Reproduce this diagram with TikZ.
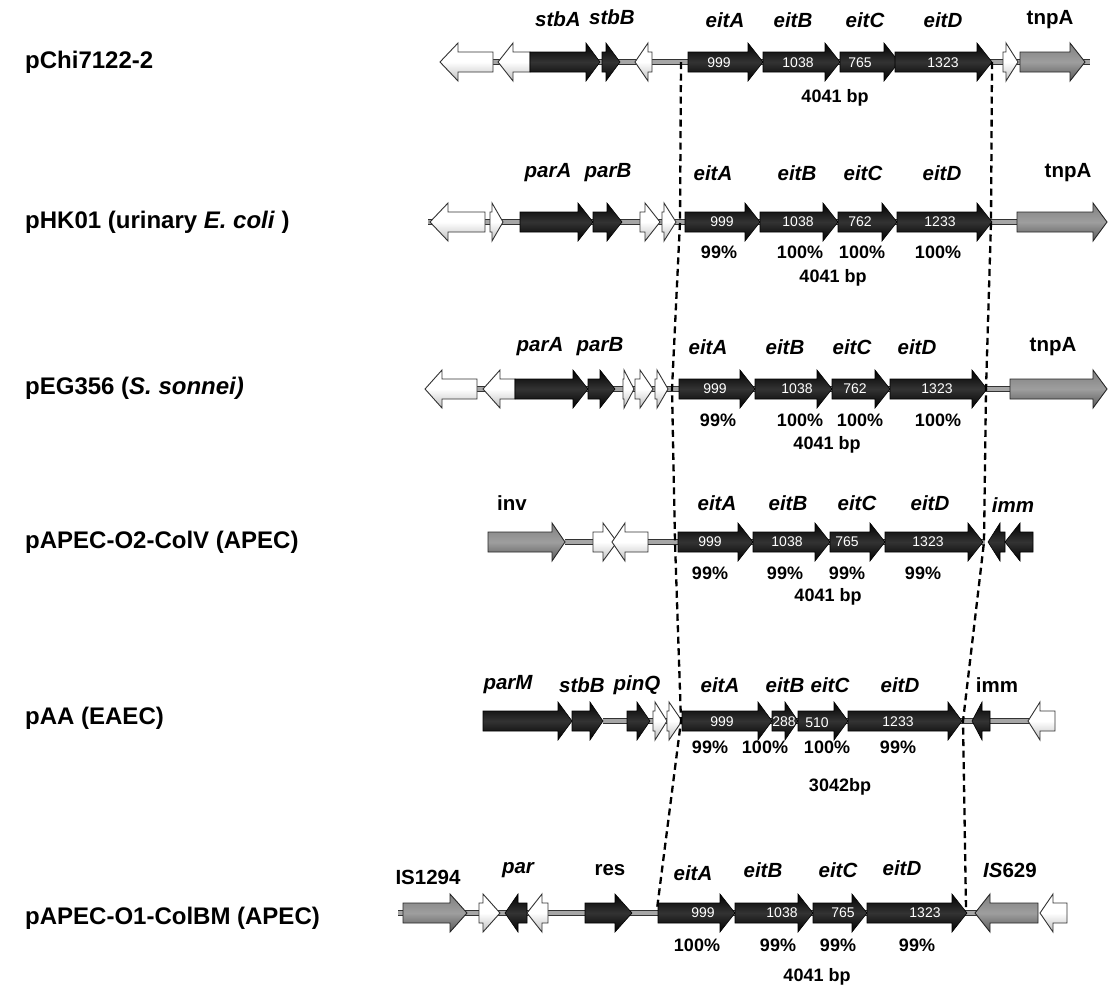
\documentclass[tikz,border=0pt]{standalone}
\usepackage{fontspec}
\setmainfont{Liberation Sans}
\begin{document}
\begin{tikzpicture}[x=1pt,y=-1pt,
  blk/.style={draw=black, line width=0.6pt, top color=black, bottom color=black, middle color=black!80},
  wht/.style={draw=black!80, line width=0.9pt, top color=white, bottom color=gray!50, middle color=white},
  gry/.style={draw=black!85, line width=0.9pt, top color=black!50, bottom color=black!65, middle color=black!38},
  rowlab/.style={anchor=west, inner sep=0pt, font=\fontsize{24}{26}\selectfont\bfseries},
  glab/.style={inner sep=0pt, font=\fontsize{20.5}{22}\selectfont\bfseries\itshape},
  glabu/.style={inner sep=0pt, font=\fontsize{20.5}{22}\selectfont\bfseries},
  inum/.style={inner sep=0pt, text=white, font=\fontsize{14}{15}\selectfont},
  pct/.style={inner sep=0pt, font=\fontsize{18}{20}\selectfont\bfseries},
  dashln/.style={draw=black, line width=2.3pt, dash pattern=on 7pt off 4.5pt}
]
\newcommand{\gene}[5]{\path[#1] (#2,#5-10) -- (#3,#5-10) -- (#3,#5-19) -- (#4,#5) -- (#3,#5+19) -- (#3,#5+10) -- (#2,#5+10) -- cycle;}
\newcommand{\bb}[3]{\draw[line width=6pt, black!80] (#1,#3) -- (#2,#3); \draw[line width=3.5pt, gray!70] (#1,#3) -- (#2,#3);}
\fill[white] (0,0) rectangle (1108,989);
\useasboundingbox (0,0) rectangle (1108,989);

% ---------- Row 1: pChi7122-2 ----------
\bb{480}{1090}{62}
\gene{wht}{493}{458}{440}{62}
\gene{wht}{530}{513}{498}{62}
\gene{blk}{530}{586}{600}{62}
\gene{blk}{602}{606}{620}{62}
\gene{wht}{652}{648}{635}{62}
\gene{blk}{688}{748}{763}{62}
\gene{blk}{763}{825}{840}{62}
\gene{blk}{840}{884}{899}{62}
\gene{blk}{895}{977}{992}{62}
\gene{wht}{1003}{1006}{1018}{62}
\gene{gry}{1020}{1070}{1085}{62}

% ---------- Row 2: pHK01 ----------
\bb{428}{1020}{222}
\gene{wht}{485}{448}{430}{222}
\gene{wht}{490}{492}{503}{222}
\gene{blk}{520}{578}{593}{222}
\gene{blk}{593}{607}{622}{222}
\gene{wht}{640}{645}{660}{222}
\gene{wht}{662}{664}{676}{222}
\gene{blk}{685}{745}{760}{222}
\gene{blk}{760}{823}{838}{222}
\gene{blk}{838}{882}{897}{222}
\gene{blk}{897}{977}{992}{222}
\gene{gry}{1017}{1093}{1107}{222}

% ---------- Row 3: pEG356 ----------
\bb{477}{1012}{389}
\gene{wht}{477}{442}{425}{389}
\gene{wht}{515}{500}{483}{389}
\gene{blk}{515}{573}{588}{389}
\gene{blk}{588}{600}{615}{389}
\gene{wht}{623}{624}{634}{389}
\gene{wht}{635}{640}{653}{389}
\gene{wht}{655}{657}{668}{389}
\gene{blk}{679}{740}{755}{389}
\gene{blk}{755}{817}{832}{389}
\gene{blk}{832}{875}{890}{389}
\gene{blk}{890}{972}{987}{389}
\gene{gry}{1010}{1093}{1107}{389}

% ---------- Row 4: pAPEC-O2-ColV ----------
\bb{565}{985}{542}
\gene{gry}{488}{552}{565}{542}
\gene{wht}{593}{603}{617}{542}
\gene{wht}{648}{625}{612}{542}
\gene{blk}{678}{738}{753}{542}
\gene{blk}{753}{815}{830}{542}
\gene{blk}{830}{870}{885}{542}
\gene{blk}{885}{968}{983}{542}
\gene{blk}{1005}{1000}{988}{542}
\gene{blk}{1033}{1020}{1005}{542}

% ---------- Row 5: pAA ----------
\bb{603}{1030}{721}
\gene{blk}{483}{558}{572}{721}
\gene{blk}{572}{590}{603}{721}
\gene{blk}{627}{637}{650}{721}
\gene{wht}{653}{655}{667}{721}
\gene{wht}{667}{669}{682}{721}
\gene{blk}{682}{758}{772}{721}
\gene{blk}{772}{785}{798}{721}
\gene{blk}{798}{834}{848}{721}
\gene{blk}{848}{948}{962}{721}
\gene{blk}{990}{982}{972}{721}
\gene{wht}{1055}{1040}{1028}{721}

% ---------- Row 6: pAPEC-O1-ColBM ----------
\bb{398}{977}{913}
\gene{gry}{403}{450}{467}{913}
\gene{wht}{479}{483}{500}{913}
\gene{blk}{527}{518}{505}{913}
\gene{wht}{548}{542}{527}{913}
\gene{blk}{585}{615}{632}{913}
\gene{blk}{658}{720}{735}{913}
\gene{blk}{735}{798}{813}{913}
\gene{blk}{813}{852}{867}{913}
\gene{blk}{867}{952}{967}{913}
\gene{gry}{1038}{990}{975}{913}
\gene{wht}{1067}{1053}{1040}{913}

% ---------- dashed boundaries ----------
\coordinate (L1) at (681,62); \coordinate (L2) at (680,222); \coordinate (L3) at (672,389);
\coordinate (L4) at (675,542); \coordinate (L5) at (681,721); \coordinate (L6) at (657,909);
\coordinate (R1) at (992,62); \coordinate (R2) at (991,222); \coordinate (R3) at (986,389);
\coordinate (R4) at (984,542); \coordinate (R5) at (963,721); \coordinate (R6) at (966,909);
\draw[dashln] (L1) -- (L2) -- (L3) -- (L4) -- (L5) -- (L6);
\draw[dashln] (R1) -- (R2) -- (R3) -- (R4) -- (R5) -- (R6);

% ---------- row labels ----------
\node[rowlab] (n1) at (25,62) {pChi7122-2};
\node[rowlab] (n2) at (25,222) {pHK01 (urinary \textit{E. coli} )};
\node[rowlab] (n3) at (25,388) {pEG356 (\textit{S. sonnei)}};
\node[rowlab] (n4) at (25,542) {pAPEC-O2-ColV (APEC)};
\node[rowlab] (n5) at (25,718) {pAA (EAEC)};
\node[rowlab] (n6) at (25,918) {pAPEC-O1-ColBM (APEC)};

% ---------- row 1 texts ----------
\node[glab] (a1) at (558,19) {stbA};
\node[glab] (a2) at (612,17) {stbB};
\node[glab] (a3) at (725,20) {eitA};
\node[glab] (a4) at (793,20) {eitB};
\node[glab] (a5) at (865,20) {eitC};
\node[glab] (a6) at (943,20) {eitD};
\node[glabu] (a7) at (1050,20) {tnpA};
\node[inum] (a8) at (719,63) {999};
\node[inum] (a9) at (798,63) {1038};
\node[inum] (a10) at (860,63) {765};
\node[inum] (a11) at (943,63) {1323};
\node[pct] (a12) at (835,98) {4041 bp};

% ---------- row 2 texts ----------
\node[glab] (b1) at (548,173) {parA};
\node[glab] (b2) at (608,173) {parB};
\node[glab] (b3) at (713,173) {eitA};
\node[glab] (b4) at (797,173) {eitB};
\node[glab] (b5) at (863,173) {eitC};
\node[glab] (b6) at (942,173) {eitD};
\node[glabu] (b7) at (1068,173) {tnpA};
\node[inum] (b8) at (722,222) {999};
\node[inum] (b9) at (798,222) {1038};
\node[inum] (b10) at (860,222) {762};
\node[inum] (b11) at (940,222) {1233};
\node[pct] (b12) at (719,252) {99\%};
\node[pct] (b13) at (800,252) {100\%};
\node[pct] (b14) at (862,252) {100\%};
\node[pct] (b15) at (938,252) {100\%};
\node[pct] (b16) at (833,278) {4041 bp};

% ---------- row 3 texts ----------
\node[glab] (c1) at (540,347) {parA};
\node[glab] (c2) at (600,347) {parB};
\node[glab] (c3) at (708,347) {eitA};
\node[glab] (c4) at (785,347) {eitB};
\node[glab] (c5) at (852,347) {eitC};
\node[glab] (c6) at (917,347) {eitD};
\node[glabu] (c7) at (1053,347) {tnpA};
\node[inum] (c8) at (715,389) {999};
\node[inum] (c9) at (797,389) {1038};
\node[inum] (c10) at (855,389) {762};
\node[inum] (c11) at (937,389) {1323};
\node[pct] (c12) at (718,420) {99\%};
\node[pct] (c13) at (800,420) {100\%};
\node[pct] (c14) at (860,420) {100\%};
\node[pct] (c15) at (938,420) {100\%};
\node[pct] (c16) at (827,445) {4041 bp};

% ---------- row 4 texts ----------
\node[glabu] (d1) at (512,503) {inv};
\node[glab] (d2) at (717,503) {eitA};
\node[glab] (d3) at (788,503) {eitB};
\node[glab] (d4) at (857,503) {eitC};
\node[glab] (d5) at (930,503) {eitD};
\node[glab] (d6) at (1013,505) {imm};
\node[inum] (d7) at (710,542) {999};
\node[inum] (d8) at (787,542) {1038};
\node[inum] (d9) at (847,542) {765};
\node[inum] (d10) at (928,542) {1323};
\node[pct] (d11) at (710,573) {99\%};
\node[pct] (d12) at (785,573) {99\%};
\node[pct] (d13) at (847,573) {99\%};
\node[pct] (d14) at (923,573) {99\%};
\node[pct] (d15) at (828,597) {4041 bp};

% ---------- row 5 texts ----------
\node[glab] (e1) at (508,685) {parM};
\node[glab] (e2) at (582,685) {stbB};
\node[glab] (e3) at (637,685) {pinQ};
\node[glab] (e4) at (720,685) {eitA};
\node[glab] (e5) at (785,685) {eitB};
\node[glab] (e6) at (830,685) {eitC};
\node[glab] (e7) at (900,685) {eitD};
\node[glabu] (e8) at (997,685) {imm};
\node[inum] (e9) at (722,722) {999};
\node[inum] (e10) at (784,722) {288};
\node[inum] (e11) at (817,723) {510};
\node[inum] (e12) at (898,722) {1233};
\node[pct] (e13) at (710,747) {99\%};
\node[pct] (e14) at (765,747) {100\%};
\node[pct] (e15) at (827,747) {100\%};
\node[pct] (e16) at (898,747) {99\%};
\node[pct] (e17) at (840,787) {3042bp};

% ---------- row 6 texts ----------
\node[glabu] (f1) at (428,877) {IS1294};
\node[glab] (f2) at (518,870) {par};
\node[glabu] (f3) at (610,870) {res};
\node[glab] (f4) at (693,873) {eitA};
\node[glab] (f5) at (763,870) {eitB};
\node[glab] (f6) at (838,870) {eitC};
\node[glab] (f7) at (902,868) {eitD};
\node[glabu] (f8) at (1010,870) {\textit{IS}629};
\node[inum] (f9) at (703,913) {999};
\node[inum] (f10) at (782,913) {1038};
\node[inum] (f11) at (843,913) {765};
\node[inum] (f12) at (925,913) {1323};
\node[pct] (f13) at (697,945) {100\%};
\node[pct] (f14) at (778,945) {99\%};
\node[pct] (f15) at (838,945) {99\%};
\node[pct] (f16) at (917,945) {99\%};
\node[pct] (f17) at (817,977) {4041 bp};
\end{tikzpicture}
\end{document}
